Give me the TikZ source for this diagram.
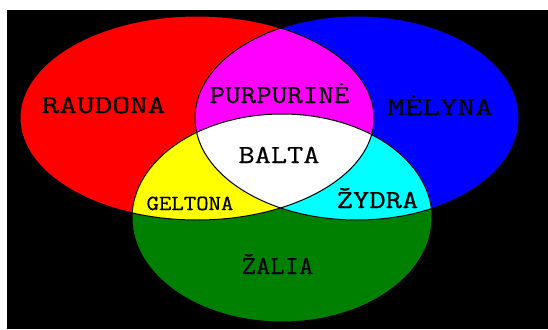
\documentclass[tikz,border=0pt]{standalone}
\usepackage{fontspec}
\newfontfamily\vennfont{Latin Modern Mono}[FakeBold=0.6]
\definecolor{vred}{RGB}{255,0,0}
\definecolor{vblue}{RGB}{0,0,255}
\definecolor{vgreen}{RGB}{0,128,0}
\definecolor{vmagenta}{RGB}{255,0,255}
\definecolor{vyellow}{RGB}{255,255,0}
\definecolor{vcyan}{RGB}{0,255,255}
\begin{document}
\begin{tikzpicture}[x=1pt,y=-1pt,
  lbl/.style={font=\vennfont\fontsize{26}{26}\selectfont, anchor=base, inner sep=0pt, text=black},
  slbl/.style={font=\vennfont\fontsize{21.5}{21.5}\selectfont, anchor=base, inner sep=0pt, text=black},
  edge/.style={draw=black, line width=1pt}]
\path[use as bounding box, fill=white] (0,0) rectangle (548,329);
\fill[black] (7,10) rectangle (548,329);
% base fills
\fill[vred]   (197,118) ellipse [x radius=177pt, y radius=102pt];
\fill[vblue]  (357,118) ellipse [x radius=162pt, y radius=102pt];
\fill[vgreen] (282,218) ellipse [x radius=150pt, y radius=104pt];
% overlaps
\begin{scope}
  \clip (197,118) ellipse [x radius=177pt, y radius=102pt];
  \fill[vmagenta] (357,118) ellipse [x radius=162pt, y radius=102pt];
  \fill[vyellow] (282,218) ellipse [x radius=150pt, y radius=104pt];
\end{scope}
\begin{scope}
  \clip (357,118) ellipse [x radius=162pt, y radius=102pt];
  \fill[vcyan] (282,218) ellipse [x radius=150pt, y radius=104pt];
\end{scope}
\begin{scope}
  \clip (197,118) ellipse [x radius=177pt, y radius=102pt];
  \clip (357,118) ellipse [x radius=162pt, y radius=102pt];
  \fill[white] (282,218) ellipse [x radius=150pt, y radius=104pt];
\end{scope}
% outlines
\draw[edge] (197,118) ellipse [x radius=177pt, y radius=102pt];
\draw[edge] (357,118) ellipse [x radius=162pt, y radius=102pt];
\draw[edge] (282,218) ellipse [x radius=150pt, y radius=104pt];
% labels
\node[lbl] (raudona) at (103.5,113) {\scalebox{1.32}[1]{RAUDONA}};
\node[lbl] (purpurine) at (279.5,103) {\scalebox{1.16}[1]{PURPURINĖ}};
\node[lbl] (melyna) at (440,115) {\scalebox{1.31}[1]{MĖLYNA}};
\node[lbl] (balta) at (279,163) {\scalebox{1.21}[1]{BALTA}};
\node[slbl] (geltona) at (190,210) {\scalebox{1.12}[1]{GELTONA}};
\node[lbl] (zydra) at (377.5,208) {\scalebox{1.22}[1]{ŽYDRA}};
\node[lbl] (zalia) at (277.5,274) {\scalebox{1.07}[1]{ŽALIA}};
\end{tikzpicture}
\end{document}
